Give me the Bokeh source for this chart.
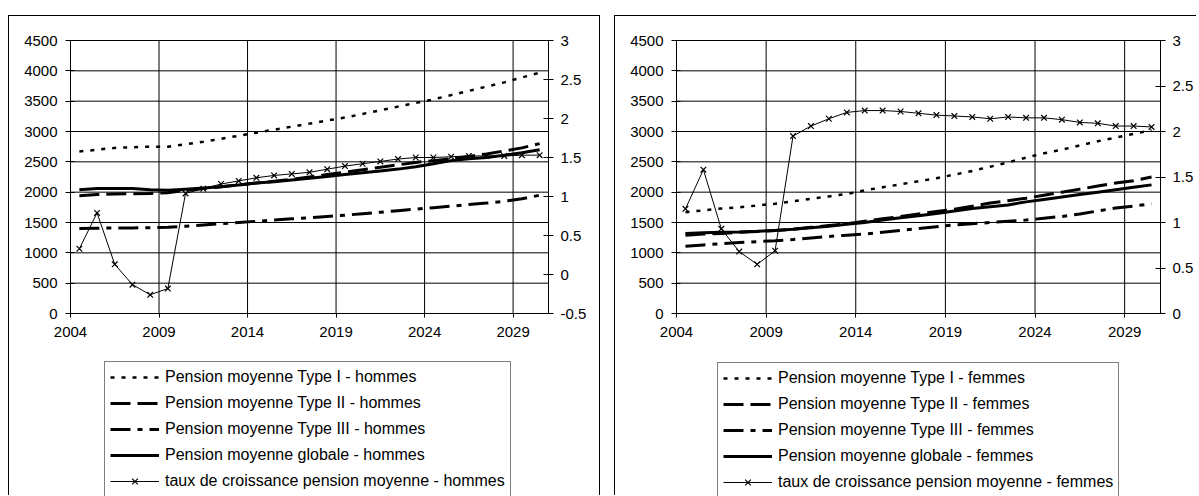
from bokeh.plotting import figure
from bokeh.models import (Range1d, LinearAxis, FixedTicker, NumeralTickFormatter,
                          Legend, LegendItem, ColumnDataSource, Spacer)
from bokeh.transform import dodge
from bokeh.layouts import row, column
from bokeh.embed import file_html
from bokeh.resources import INLINE

# ---------------- data ----------------
years = [2004, 2005, 2006, 2007, 2008, 2009, 2010, 2011, 2012, 2013, 2014, 2015, 2016,
         2017, 2018, 2019, 2020, 2021, 2022, 2023, 2024, 2025, 2026, 2027, 2028, 2029, 2030]

x_tick_years = [2004, 2009, 2014, 2019, 2024, 2029]
left_ticks = [0, 500, 1000, 1500, 2000, 2500, 3000, 3500, 4000, 4500]
right_ticks_h = [-0.5, 0, 0.5, 1, 1.5, 2, 2.5, 3]
right_ticks_f = [0, 0.5, 1, 1.5, 2, 2.5, 3]

type1_h = [2670, 2700, 2730, 2740, 2750, 2750, 2790, 2830, 2880, 2930, 2980, 3030, 3080,
           3130, 3180, 3230, 3290, 3350, 3410, 3470, 3530, 3600, 3670, 3740, 3810, 3890, 3970]
type2_h = [1940, 1960, 1970, 1975, 1980, 1990, 2030, 2060, 2090, 2120, 2150, 2180, 2210,
           2250, 2290, 2330, 2370, 2410, 2450, 2490, 2520, 2550, 2590, 2630, 2680, 2730, 2800]
type3_h = [1400, 1405, 1410, 1410, 1415, 1420, 1440, 1460, 1480, 1500, 1520, 1540, 1560,
           1580, 1600, 1620, 1645, 1670, 1695, 1720, 1745, 1770, 1795, 1820, 1850, 1890, 1950]
global_h = [2040, 2060, 2060, 2060, 2040, 2030, 2050, 2070, 2090, 2120, 2150, 2170, 2200,
            2230, 2260, 2290, 2320, 2350, 2380, 2420, 2470, 2520, 2550, 2570, 2610, 2650, 2700]
growth_h = [0.33, 0.79, 0.13, -0.13, -0.26, -0.18, 1.04, 1.10, 1.16, 1.20, 1.24, 1.27, 1.29,
            1.31, 1.35, 1.39, 1.42, 1.45, 1.48, 1.50, 1.50, 1.51, 1.52, 1.52, 1.52, 1.53, 1.53]

type1_f = [1670, 1700, 1730, 1750, 1780, 1810, 1850, 1890, 1930, 1970, 2030, 2080, 2130,
           2180, 2230, 2290, 2350, 2420, 2490, 2570, 2640, 2700, 2770, 2840, 2900, 2960, 3020]
type2_f = [1290, 1310, 1320, 1340, 1350, 1370, 1390, 1420, 1450, 1480, 1520, 1560, 1600,
           1640, 1680, 1720, 1770, 1820, 1860, 1900, 1950, 2000, 2050, 2100, 2150, 2190, 2250]
type3_f = [1110, 1130, 1150, 1170, 1185, 1200, 1220, 1245, 1270, 1290, 1310, 1340, 1370,
           1400, 1430, 1460, 1480, 1500, 1520, 1540, 1570, 1600, 1640, 1690, 1740, 1770, 1810]
global_f = [1320, 1330, 1340, 1345, 1355, 1370, 1390, 1415, 1440, 1470, 1500, 1540, 1580,
            1610, 1650, 1690, 1730, 1760, 1790, 1840, 1880, 1920, 1960, 2000, 2040, 2080, 2120]
growth_f = [1.15, 1.58, 0.93, 0.68, 0.54, 0.69, 1.95, 2.06, 2.14, 2.21, 2.23, 2.23, 2.22,
            2.20, 2.18, 2.17, 2.16, 2.14, 2.16, 2.15, 2.15, 2.13, 2.10, 2.09, 2.06, 2.06, 2.05]

labels_h = ["Pension moyenne Type I - hommes", "Pension moyenne Type II - hommes",
            "Pension moyenne Type III - hommes", "Pension moyenne globale - hommes",
            "taux de croissance pension moyenne - hommes"]
labels_f = ["Pension moyenne Type I - femmes", "Pension moyenne Type II - femmes",
            "Pension moyenne Type III - femmes", "Pension moyenne globale - femmes",
            "taux de croissance pension moyenne - femmes"]

FONT = "Liberation Sans"

# ---------------- layout constants (pixels) ----------------
CANVAS_H = 480
TOP = 24          # canvas top -> value 4500
DATA_H = 273      # 4500 -> 0
BOTTOM = CANVAS_H - TOP - DATA_H
X0, X1 = 2004, 2031
Y_MAX = 4500
Y_HI = Y_MAX + Y_MAX * TOP / DATA_H
Y_LO = -Y_MAX * BOTTOM / DATA_H


def style_axis(ax, tick_in, tick_out, standoff):
    ax.axis_line_color = "black"
    ax.axis_line_width = 1
    ax.major_tick_line_color = "black"
    ax.major_tick_in = tick_in
    ax.major_tick_out = tick_out
    ax.minor_tick_line_color = None
    ax.major_label_text_font = FONT
    ax.major_label_text_font_size = "15px"
    ax.major_label_text_color = "black"
    ax.major_label_standoff = standoff


def make_panel(t1, t2, t3, gl, gr, r_min, r_ticks, labels, width, pad_left, data_w,
               legend_loc, css):
    src = ColumnDataSource(dict(year=years, t1=t1, t2=t2, t3=t3, gl=gl, gr=gr))
    pad_right = width - pad_left - data_w
    ppy = data_w / (X1 - X0)
    x_lo = X0 - pad_left / ppy
    x_hi = X1 + pad_right / ppy
    r_span = 3 - r_min
    r_hi = 3 + r_span * TOP / DATA_H
    r_lo = r_min - r_span * BOTTOM / DATA_H
    p = figure(width=width, height=CANVAS_H, x_range=Range1d(x_lo, x_hi),
               y_range=Range1d(Y_LO, Y_HI), output_backend="svg",
               toolbar_location=None,
               min_border_left=0, min_border_right=0, min_border_top=0,
               min_border_bottom=0, outline_line_color=None,
               background_fill_color="white", border_fill_color="white",
               styles=css)
    p.extra_y_ranges = {"r": Range1d(r_lo, r_hi)}

    xax = p.xaxis[0]
    xax.fixed_location = 0
    xax.bounds = (X0, X1)
    xax.ticker = FixedTicker(ticks=x_tick_years)
    xax.formatter = NumeralTickFormatter(format="0")
    style_axis(xax, 0, 4, 9)

    yax = p.yaxis[0]
    yax.fixed_location = X0
    yax.ticker = FixedTicker(ticks=left_ticks)
    yax.formatter = NumeralTickFormatter(format="0")
    yax.bounds = (0, Y_MAX)
    style_axis(yax, 4, 5, 8)

    rax = LinearAxis(y_range_name="r", ticker=FixedTicker(ticks=r_ticks),
                     formatter=NumeralTickFormatter(format="0.[0]"),
                     bounds=(r_min, 3), fixed_location=X1)
    style_axis(rax, 5, 5, 7)
    p.add_layout(rax, "right")

    p.xgrid.visible = False
    p.ygrid.visible = False

    # grid lines, limited to the value area
    vsrc = ColumnDataSource(dict(x=x_tick_years, y0=[0] * len(x_tick_years),
                                 y1=[Y_MAX] * len(x_tick_years)))
    p.segment(x0="x", y0="y0", x1="x", y1="y1", source=vsrc, line_color="black",
              line_width=1)
    hsrc = ColumnDataSource(dict(y=left_ticks, x0=[X0] * len(left_ticks),
                                 x1=[X1] * len(left_ticks)))
    p.segment(x0="x0", y0="y", x1="x1", y1="y", source=hsrc, line_color="black",
              line_width=1)

    xs = dodge("year", 0.5)
    r1 = p.line(x=xs, y="t1", source=src, line_color="black", line_width=2.5,
                line_dash="4 7")
    r2 = p.line(x=xs, y="t2", source=src, line_color="black", line_width=3,
                line_dash="20 7")
    r3 = p.line(x=xs, y="t3", source=src, line_color="black", line_width=3,
                line_dash="20 7 5 7")
    r4 = p.line(x=xs, y="gl", source=src, line_color="black", line_width=3)
    r5 = p.line(x=xs, y="gr", source=src, line_color="black", line_width=1,
                y_range_name="r")
    r6 = p.scatter(x=xs, y="gr", source=src, marker="x", size=8, line_color="black",
                   line_width=1.2, y_range_name="r")

    legend = Legend(items=[LegendItem(label=labels[0], renderers=[r1]),
                           LegendItem(label=labels[1], renderers=[r2]),
                           LegendItem(label=labels[2], renderers=[r3]),
                           LegendItem(label=labels[3], renderers=[r4]),
                           LegendItem(label=labels[4], renderers=[r5, r6])],
                    location=legend_loc)
    legend.label_text_font = FONT
    legend.label_text_font_size = "16px"
    legend.label_text_color = "black"
    legend.label_height = 20
    legend.glyph_height = 20
    legend.glyph_width = 49
    legend.label_standoff = 6
    legend.spacing = 6
    legend.padding = 5
    legend.margin = 0
    legend.border_line_color = "black"
    legend.border_line_width = 1
    legend.background_fill_color = "white"
    legend.background_fill_alpha = 1
    p.add_layout(legend)
    return p


p1 = make_panel(type1_h, type2_h, type3_h, global_h, growth_h, -0.5, right_ticks_h,
                labels_h, 592, 61, 478, (95, -1),
                {"border-left": "1px solid black", "border-top": "1px solid black",
                 "border-right": "1px solid black"})
p2 = make_panel(type1_f, type2_f, type3_f, global_f, growth_f, 0, right_ticks_f,
                labels_f, 582, 61, 484, (102, -2),
                {"border-left": "1px solid black", "border-top": "1px solid black"})

layout = column(Spacer(height=15), row(Spacer(width=8), p1, Spacer(width=14), p2))
open("out.html", "w").write(file_html(layout, INLINE))
